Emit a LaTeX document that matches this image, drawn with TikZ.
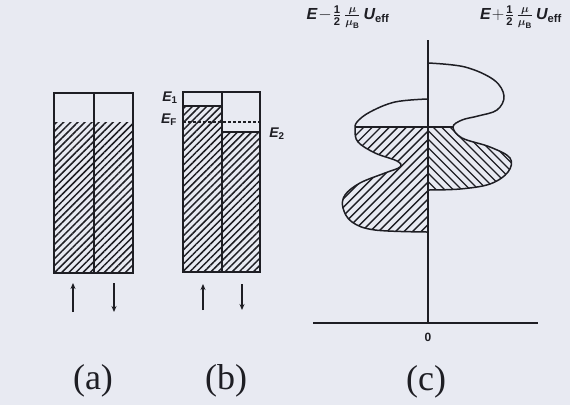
\documentclass[tikz,border=0pt]{standalone}
\usepackage{amsmath}
\usepackage{fontspec}
\setmainfont{Liberation Serif}
\setsansfont{Liberation Sans}
\usetikzlibrary{patterns.meta,arrows.meta}
\definecolor{bg}{RGB}{232,234,242}
\definecolor{ink}{RGB}{30,30,36}
\tikzset{
  box/.style={draw=ink,line width=1.7pt},
  hatchA/.style={pattern={Lines[angle=45,distance=5pt,line width=1.5pt]},pattern color=ink},
  hline/.style={draw=ink,line width=1.4pt},
  curve/.style={draw=ink,line width=1.5pt},
  spin/.style={draw=ink,line width=1.7pt,-{Stealth[length=6pt,width=5pt]}},
  elab/.style={font=\fontsize{14}{15}\selectfont\sffamily\bfseries\itshape,text=ink,inner sep=0pt},
  toplab/.style={font=\fontsize{16}{17}\selectfont,text=ink,inner sep=0pt},
  panel/.style={font=\fontsize{36}{38}\selectfont,text=ink,inner sep=0pt},
}
\newcommand{\sfE}{\textsf{\bfseries\itshape E}}
\newcommand{\sfU}{\textsf{\bfseries\itshape U}}
\newcommand{\leftdos}{plot[smooth,tension=0.6] coordinates {(427,99) (395,102) (370,112) (357,122) (355,130) (358,142) (375,153) (397,161) (400,167) (385,173) (360,183) (345,195) (343,208) (352,222) (375,230) (427,232)}}
\newcommand{\rightdos}{plot[smooth,tension=0.6] coordinates {(428,63) (465,67) (494,80) (504,96) (497,110) (478,116) (462,120) (453,127) (462,138) (490,147) (510,158) (508,172) (490,184) (460,189) (428,190)}}
\begin{document}
\begin{tikzpicture}[x=1pt,y=-1pt]
\fill[bg] (0,0) rectangle (570,405);
\useasboundingbox (0,0) rectangle (570,405);
% ---------- panel (a)
\fill[hatchA] (54,122) rectangle (133,273);
\draw[box] (54,93) rectangle (133,273);
\draw[box] (94,93) -- (94,273);
\coordinate (a1s) at (73,312); \coordinate (a1e) at (73,283);
\coordinate (a2s) at (114,283); \coordinate (a2e) at (114,312);
\draw[spin] (a1s) -- (a1e);
\draw[spin] (a2s) -- (a2e);
\node[panel] (la) at (93,381) {(a)};
% ---------- panel (b)
\fill[hatchA] (183,106) rectangle (222,272);
\fill[hatchA] (222,132) rectangle (260,272);
\draw[box] (183,92) rectangle (260,272);
\draw[box] (222,92) -- (222,272);
\draw[box] (183,106) -- (222,106);
\draw[box] (222,132) -- (260,132);
\draw[draw=ink,line width=1.2pt,dash pattern=on 3pt off 2pt] (183,122) -- (260,122);
\node[elab] (e1) at (170,98) {E\textsubscript{\upshape 1}};
\node[elab] (ef) at (169,120) {E\textsubscript{\upshape F}};
\node[elab] (e2) at (277,134) {E\textsubscript{\upshape 2}};
\coordinate (b1s) at (203,310); \coordinate (b1e) at (203,284);
\coordinate (b2s) at (242,284); \coordinate (b2e) at (242,310);
\draw[spin] (b1s) -- (b1e);
\draw[spin] (b2s) -- (b2e);
\node[panel] (lb) at (226,381) {(b)};
% ---------- panel (c): hatching below the Fermi level
\begin{scope}
\clip (300,127) rectangle (560,245);
\clip \leftdos -- cycle;
\foreach \i in {0,...,40} \draw[hline] (190+8.5*\i,250) -- ++(150,-150);
\end{scope}
\begin{scope}
\clip (300,127) rectangle (560,245);
\clip \rightdos -- cycle;
\foreach \i in {0,...,40} \draw[hline] (270+8.5*\i,100) -- ++(150,150);
\end{scope}
\draw[curve] \leftdos;
\draw[curve] \rightdos;
\coordinate (fl) at (355.5,127); \coordinate (fr) at (453.5,127);
\draw[curve] (fl) -- (fr);
\coordinate (ytop) at (428,40); \coordinate (yo) at (428,323);
\coordinate (xl) at (313,323); \coordinate (xr) at (538,323);
\draw[curve] (ytop) -- (yo);
\draw[curve] (xl) -- (xr);
\node[toplab,font=\fontsize{12}{13}\selectfont\sffamily\bfseries] (zero) at (428,337) {0};
\node[toplab] (tl) at (348,17) {$\sfE\!-\!\frac{\textsf{\bfseries 1}}{\textsf{\bfseries 2}}\,\frac{\boldsymbol{\mu}}{\boldsymbol{\mu}_{\textsf{\bfseries B}}}\,\sfU_{\textsf{\bfseries eff}}$};
\node[toplab] (tr) at (521,17) {$\sfE\!+\!\frac{\textsf{\bfseries 1}}{\textsf{\bfseries 2}}\,\frac{\boldsymbol{\mu}}{\boldsymbol{\mu}_{\textsf{\bfseries B}}}\,\sfU_{\textsf{\bfseries eff}}$};
\node[panel] (lc) at (426,382) {(c)};
\end{tikzpicture}
\end{document}
